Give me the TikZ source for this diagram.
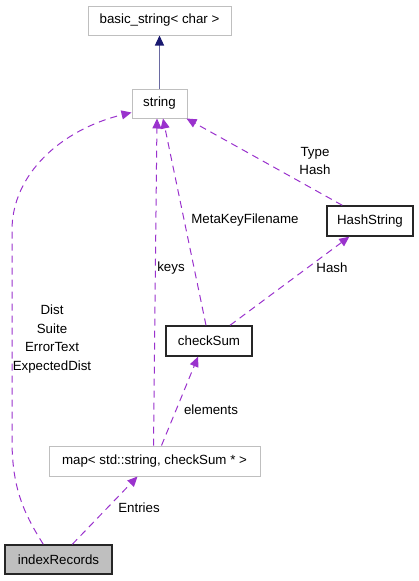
\documentclass[tikz,border=0pt]{standalone}
\usepackage{fontspec}
\setmainfont{Liberation Sans}
\usepackage{tikz}
\usetikzlibrary{arrows.meta}
\usetikzlibrary{calc}
\definecolor{rahmen}{RGB}{191,191,191}
\definecolor{bezug}{RGB}{154,50,205}
\definecolor{erbe}{RGB}{25,25,112}

\begin{document}
\begin{tikzpicture}[x=1pt, y=-1pt, >={Triangle[length=10pt,width=9pt]},
	font=\fontsize{13.3}{18.5}\selectfont,
	klasse/.style={draw=rahmen, line width=1pt, inner sep=0pt, minimum height=29pt},
	fett/.style={draw=black!85, line width=1.4pt},
	kante/.style={bezug, ->, line width=1pt, dash pattern=on 7pt off 5pt},
]
\useasboundingbox (0,0) rectangle (419,581);

% Klassen
\node[klasse, minimum width=143pt] (bstr) at (159.5,20.5) {basic\_string< char >};
\node[klasse, minimum width=55pt] (string) at (159.5,103.5) {string};
\node[klasse, fett, minimum width=86pt, minimum height=30pt] (hstr) at (370,221) {HashString};
\node[klasse, fett, minimum width=86pt, minimum height=30pt] (cks) at (209,341) {checkSum};
\node[klasse, minimum width=211pt, minimum height=30pt] (map) at (154.5,461) {map< std::string, checkSum * >};
\node[klasse, fett, fill=rahmen, minimum width=107pt] (idx) at (58.5,559.5) {indexRecords};

% Vererbung
\draw[erbe!65, -{Triangle[length=10pt,width=9pt,color=erbe]}, line width=1.2pt] (string.north) -- (bstr.south);

% Beziehungen
\draw[kante] ($(idx.north west)+(39,0)$) .. controls (25,515) and (12,490) .. (12,440)
	-- (12,230) .. controls (12,175) and (60,130) .. ($(string.south west)+(0,-6)$);
\node[align=center] (lbl1) at (52,339) {Dist\\Suite\\ErrorText\\ExpectedDist};

\draw[kante] ($(map.north)+(-1,0)$) -- ($(string.south)+(-2.5,0)$);
\node (lbl2) at (171,268) {keys};

\draw[kante] ($(cks.north)+(-3,0)$) -- ($(string.south)+(3.5,0)$);
\node (lbl3) at (245,220) {MetaKeyFilename};

\draw[kante] ($(hstr.north west)+(16,0)$) -- ($(string.south east)+(-1,0)$);
\node[align=center] (lbl4) at (315,161) {Type\\Hash};

\draw[kante] ($(cks.north)+(21,0)$) -- ($(hstr.south west)+(23,0)$);
\node (lbl5) at (332,268) {Hash};

\draw[kante] ($(map.north)+(7,0)$) -- ($(cks.south)+(-11,0)$);
\node (lbl6) at (211,410) {elements};

\draw[kante] ($(idx.north west)+(68,0)$) -- ($(map.south west)+(89,0)$);
\node (lbl7) at (139,508) {Entries};

\end{tikzpicture}
\end{document}
